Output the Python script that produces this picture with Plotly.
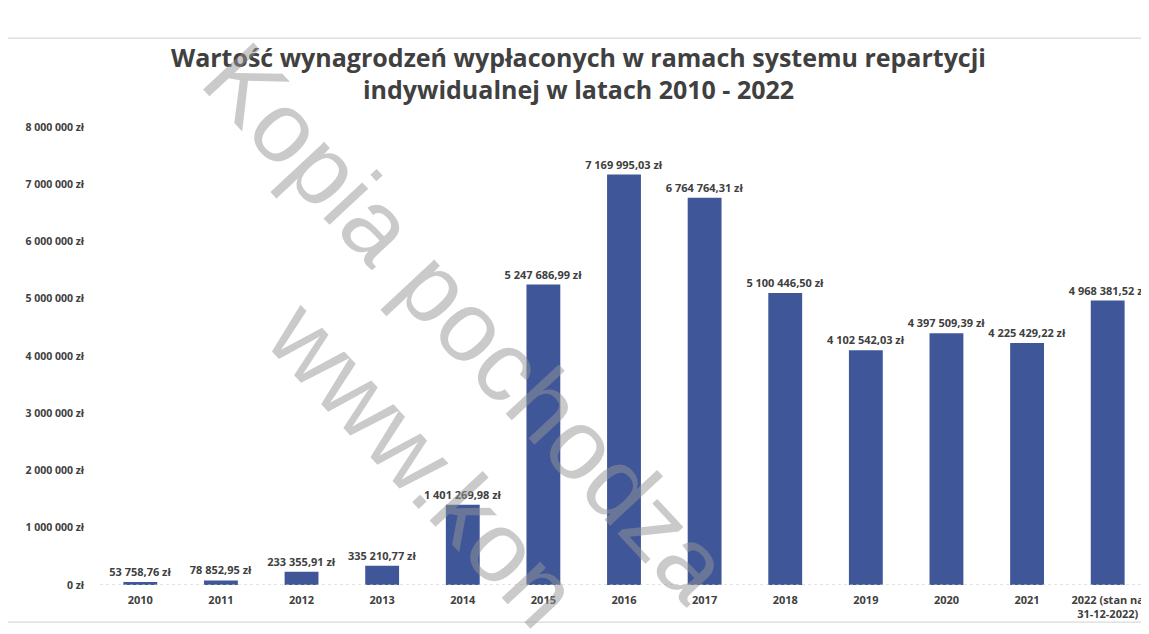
import plotly.graph_objects as go

## data
years = ["2010", "2011", "2012", "2013", "2014", "2015", "2016",
         "2017", "2018", "2019", "2020", "2021", "2022 (stan na<br>31-12-2022)"]
payouts = [53758.76, 78852.95, 233355.91, 335210.77, 1401269.98, 5247686.99,
           7169995.03, 6764764.31, 5100446.50, 4102542.03, 4397509.39,
           4225429.22, 4968381.52]
y_ticks = [0, 1000000, 2000000, 3000000, 4000000, 5000000, 6000000, 7000000, 8000000]
y_tick_text = [f"{v:,.0f}".replace(",", " ") + " zł" for v in y_ticks]

bar_colour = "#3f5799"
text_colour = "#404040"

fig = go.Figure()

fig.add_trace(
    go.Bar(
        x=years,
        y=payouts,
        marker=dict(color=bar_colour, line=dict(width=0)),
        texttemplate="%{y:,.2f} zł",
        textposition="outside",
        constraintext="none",
        textfont=dict(family="Open Sans", size=11, color=text_colour, weight="bold"),
        cliponaxis=False,
        showlegend=False,
    )
)

# Update layout
# (the page body adds an 8px offset, so the figure is 8px smaller than the window)
fig.update_layout(
    width=1141,
    height=626,
    paper_bgcolor="white",
    plot_bgcolor="white",
    separators=", ",
    bargap=0.58,
    margin=dict(l=92, r=1, t=119, b=49),
    title=dict(
        text="Wartość wynagrodzeń wypłaconych w ramach systemu repartycji<br>"
             "indywidualnej w latach 2010 - 2022",
        x=0.5,
        xanchor="center",
        y=0.906,
        yanchor="middle",
        font=dict(family="Open Sans", size=25, color=text_colour, weight="bold"),
    ),
)

fig.update_xaxes(
    type="category",
    showgrid=False,
    showline=False,
    ticks="",
    ticklabelstandoff=7,
    tickfont=dict(family="Open Sans", size=11, color=text_colour, weight="bold"),
)

fig.update_yaxes(
    range=[0, 8000000],
    tickvals=y_ticks,
    ticktext=y_tick_text,
    ticklabelstandoff=15,
    showgrid=False,
    zeroline=False,
    showline=False,
    ticks="",
    tickfont=dict(family="Open Sans", size=10.5, color=text_colour, weight="bold"),
)

# faint dotted baseline
fig.add_shape(type="line", xref="paper", yref="y", x0=0, x1=1, y0=0, y1=0,
              line=dict(color="#c8c8c8", width=1, dash="dot"))

# chart border from the scanned page
fig.add_shape(type="rect", xref="paper", yref="paper",
              x0=-0.09, x1=1.02, y0=-0.081, y1=1.194,
              line=dict(color="#d0d0d0", width=1), layer="below")

# scan watermark
for txt, wx, wy in [("Kopia pochodza", 0.351, 0.574), ("www.kon", 0.309, 0.266)]:
    fig.add_annotation(
        text=txt, xref="paper", yref="paper", x=wx, y=wy,
        xanchor="center", yanchor="middle",
        showarrow=False, textangle=47,
        font=dict(family="Liberation Sans", size=100, color="rgba(150,150,150,0.5)"),
    )

fig.write_html("out.html")
